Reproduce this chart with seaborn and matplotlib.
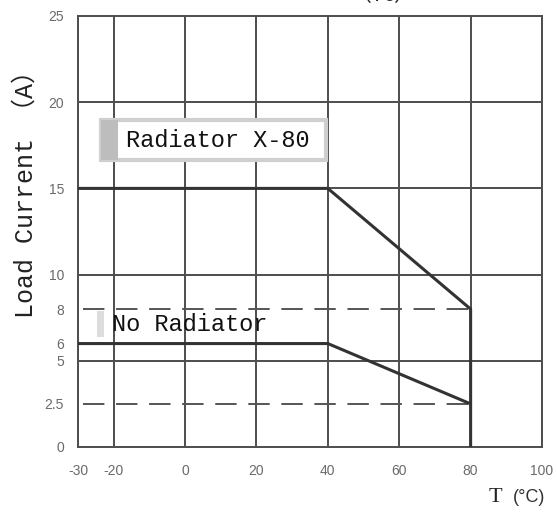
import matplotlib
matplotlib.use("Agg")
import matplotlib.pyplot as plt
import seaborn as sns
import pandas as pd
from matplotlib.patches import Rectangle

# ---- data ----
temp_radiator = [-30, 40, 80, 80]
current_radiator = [15, 15, 8, 0]
temp_no_radiator = [-30, 40, 80]
current_no_radiator = [6, 6, 2.5]

x_ticks = [-30, -20, 0, 20, 40, 60, 80, 100]
y_ticks = [0, 2.5, 5, 6, 8, 10, 15, 20, 25]
y_tick_labels = ["0", "2.5", "5", "6", "8", "10", "15", "20", "25"]
solid_levels = [5, 10, 15, 20]
dashed_levels = [8, 2.5]
dashed_end = 80

sns.set_theme(style="white")
plt.rcParams['font.family'] = ['Liberation Sans', 'DejaVu Sans']

fig = plt.figure(figsize=(5.57, 5.15), dpi=100)
ax = fig.add_axes([78/557, (515-447)/515, 464/557, 431/515])

grid_c = '#4d4d4d'
for x in x_ticks:
    ax.axvline(x, color=grid_c, lw=1.4, zorder=1)
for y in solid_levels:
    ax.axhline(y, color=grid_c, lw=1.4, zorder=1)
for y in dashed_levels:
    ax.hlines(y, x_ticks[0] + 1.5, dashed_end, color='#555555', lw=1.4,
              linestyles=(0, (11, 6)), zorder=1)

df_r = pd.DataFrame({"T": temp_radiator, "I": current_radiator})
df_n = pd.DataFrame({"T": temp_no_radiator, "I": current_no_radiator})
sns.lineplot(data=df_r, x="T", y="I", sort=False, estimator=None,
             color='#333333', lw=2.2, ax=ax, zorder=3)
sns.lineplot(data=df_n, x="T", y="I", sort=False, estimator=None,
             color='#333333', lw=2.2, ax=ax, zorder=3)

ax.set_xlim(-30, 100)
ax.set_ylim(0, 25)
ax.set_xticks(x_ticks)
ax.set_xticklabels([str(v) for v in x_ticks])
ax.set_yticks(y_ticks)
ax.set_yticklabels(y_tick_labels)
ax.tick_params(axis='both', length=0, labelsize=10, labelcolor='#6a6a6a')
ax.tick_params(axis='x', pad=12)
ax.tick_params(axis='y', pad=10)
for s in ax.spines.values():
    s.set_color(grid_c)
    s.set_linewidth(1.4)

ax.set_xlabel("")
ax.set_ylabel("Load Current （A）", family=['Liberation Mono', 'Noto Sans CJK SC'],
              fontsize=18, color='#222222')
ax.yaxis.set_label_coords(-0.088, 0.60)

# annotation boxes
ax.add_patch(Rectangle((-23.6, 16.65), 63.1, 2.32, facecolor='white',
                       edgecolor='#cfcfcf', lw=3, zorder=4))
ax.add_patch(Rectangle((-23.6, 16.65), 4.8, 2.32, facecolor='#bdbdbd',
                       edgecolor='none', zorder=5))
ax.text(-16.6, 17.8, "Radiator X-80", family='Liberation Mono', fontsize=17,
        color='#111111', va='center', ha='left', zorder=6)

ax.add_patch(Rectangle((-24.8, 6.4), 2.0, 1.5, facecolor='#dddddd',
                       edgecolor='none', zorder=4))
ax.text(-20.6, 7.1, "No Radiator", family='Liberation Mono', fontsize=17,
        color='#111111', va='center', ha='left', zorder=6)

fig.text(495/557, (515-497)/515, "T", family='Liberation Serif', fontsize=16,
         color='#222222', ha='center', va='center')
fig.text(529/557, (515-497)/515, "(°C)", family='Liberation Sans', fontsize=13,
         color='#333333', ha='center', va='center')
fig.text(383/557, (515-6)/515, "（Tc）", family=['Noto Sans CJK SC', 'DejaVu Sans'],
         fontsize=15, color='#222222', ha='center', va='bottom')

fig.savefig("out.png", dpi=100)
